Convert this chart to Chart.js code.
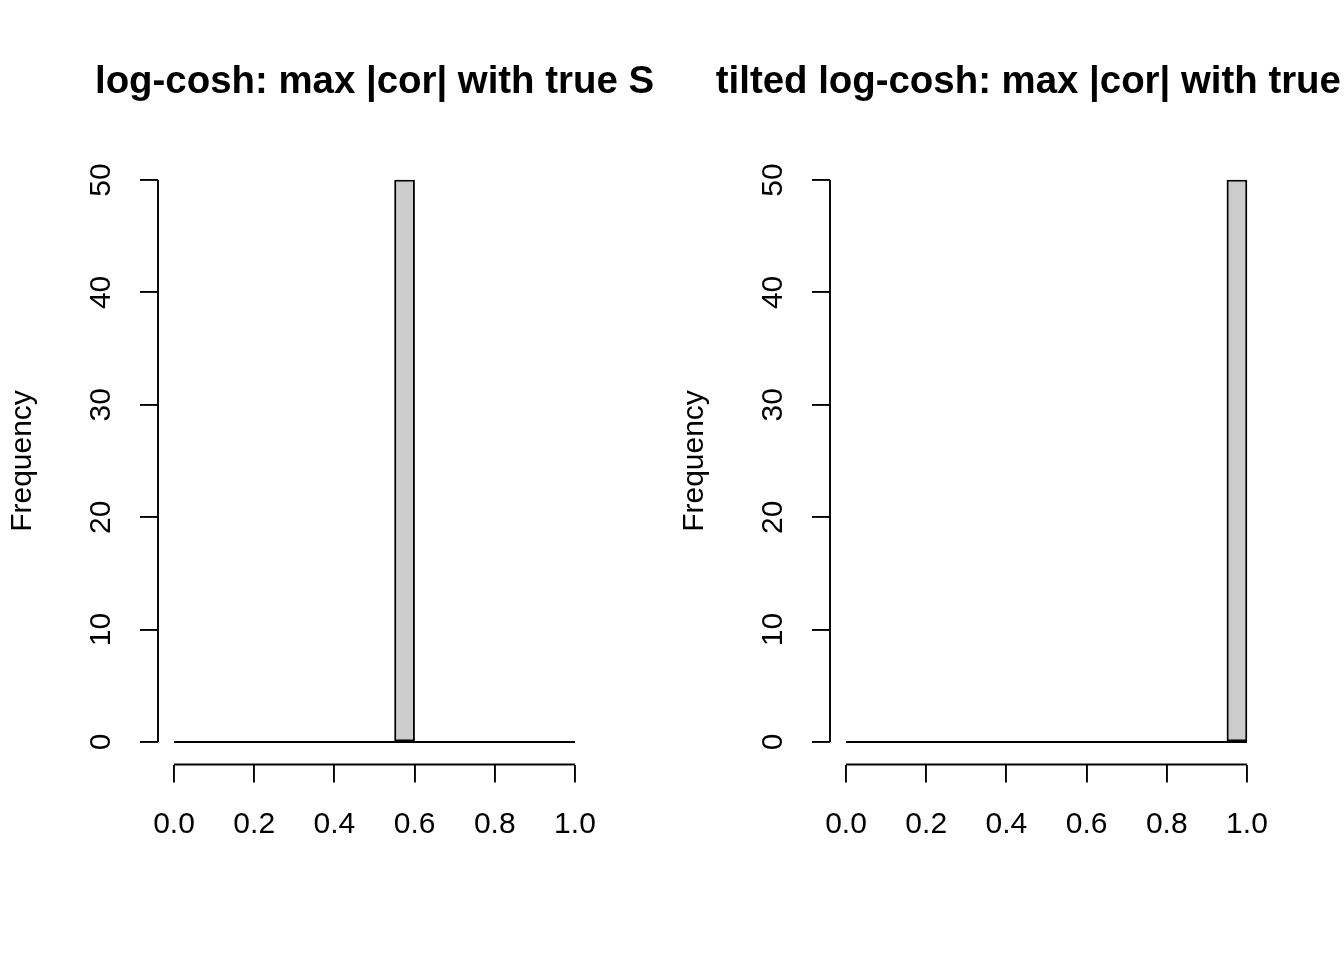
<!DOCTYPE html>
<html>
<head>
<meta charset="utf-8">
<script src="https://cdn.jsdelivr.net/npm/chart.js@4.4.1/dist/chart.umd.min.js"></script>
<style>
  body { margin: 0; background: #fff; overflow: hidden; width: 1344px; height: 960px; position: relative; }
  canvas { position: absolute; top: 0; }
  #left { left: 0; }
  #right { left: 672px; }
</style>
</head>
<body>
<canvas id="left" width="749" height="960"></canvas>
<canvas id="right" width="749" height="960"></canvas>
<script>
// histogram bins (width 0.05 on [0, 1])
var binCenters = [0.025, 0.075, 0.125, 0.175, 0.225, 0.275, 0.325, 0.375, 0.425, 0.475,
                  0.525, 0.575, 0.625, 0.675, 0.725, 0.775, 0.825, 0.875, 0.925, 0.975];
var histRange = [0.0, 1.0];
var logCoshCounts = [0, 0, 0, 0, 0, 0, 0, 0, 0, 0, 0, 50, 0, 0, 0, 0, 0, 0, 0, 0];
var tiltedCounts  = [0, 0, 0, 0, 0, 0, 0, 0, 0, 0, 0, 0, 0, 0, 0, 0, 0, 0, 0, 50];
var xTicks = [0, 0.2, 0.4, 0.6, 0.8, 1.0];
var xTickLabels = ['0.0', '0.2', '0.4', '0.6', '0.8', '1.0'];
var yTicks = [0, 10, 20, 30, 40, 50];
var titles = ['log-cosh: max |cor| with true S', 'tilted log-cosh: max |cor| with true S'];

var FONT = '"Liberation Sans", Arial, Helvetica, sans-serif';
var LW = 1.9;

// R style axes: line only from first to last tick, rotated y labels, unclipped title
var rAxes = {
  id: 'rAxes',
  afterDraw: function(chart, args, opts) {
    var ctx = chart.ctx, xs = chart.scales.x, ys = chart.scales.y, area = chart.chartArea;
    ctx.save();
    ctx.strokeStyle = '#000';
    ctx.lineWidth = LW;
    ctx.beginPath();
    ctx.moveTo(xs.getPixelForValue(xTicks[0]), area.bottom);
    ctx.lineTo(xs.getPixelForValue(xTicks[xTicks.length - 1]), area.bottom);
    ctx.moveTo(area.left, ys.getPixelForValue(yTicks[0]));
    ctx.lineTo(area.left, ys.getPixelForValue(yTicks[yTicks.length - 1]));
    ctx.stroke();

    ctx.fillStyle = '#000';
    ctx.font = '30px ' + FONT;
    ctx.textAlign = 'center';
    ctx.textBaseline = 'alphabetic';
    yTicks.forEach(function(v) {
      ctx.save();
      ctx.translate(area.left - 48, ys.getPixelForValue(v));
      ctx.rotate(-Math.PI / 2);
      ctx.fillText(String(v), 0, 0);
      ctx.restore();
    });

    ctx.font = 'bold 38.4px ' + FONT;
    ctx.fillText(opts.title, (area.left + area.right) / 2, 92.5);
    ctx.restore();
  }
};

function makeHist(id, title, counts) {
  var bars = binCenters.map(function(c, i) { return { x: c, y: counts[i] }; });
  return new Chart(document.getElementById(id), {
    type: 'bar',
    data: {
      datasets: [{
        type: 'line',
        data: [{ x: histRange[0], y: 0 }, { x: histRange[1], y: 0 }],
        borderColor: '#000',
        borderWidth: LW,
        pointRadius: 0,
        fill: false
      }, {
        type: 'bar',
        data: bars,
        backgroundColor: '#CCCCCC',
        borderColor: '#000',
        borderWidth: LW,
        borderSkipped: false,
        barPercentage: 1,
        categoryPercentage: 1
      }]
    },
    options: {
      responsive: false,
      animation: false,
      devicePixelRatio: 1,
      layout: { padding: { left: 0, right: 158, top: 157.5, bottom: 0 } },
      plugins: {
        legend: { display: false },
        tooltip: { enabled: false },
        title: { display: false },
        rAxes: { title: title }
      },
      scales: {
        x: {
          type: 'linear',
          min: -0.04,
          max: 1.04,
          offset: false,
          afterBuildTicks: function(s) { s.ticks = xTicks.map(function(v) { return { value: v }; }); },
          afterFit: function(s) { s.height = 195.5; },
          grid: { offset: false, drawOnChartArea: false, drawTicks: true, tickLength: 18, color: '#000', lineWidth: LW },
          border: { display: false },
          ticks: {
            color: '#000',
            padding: 24,
            maxRotation: 0,
            font: { family: FONT, size: 30 },
            callback: function(v, i) { return xTickLabels[i]; }
          }
        },
        y: {
          min: -2,
          max: 52,
          afterBuildTicks: function(s) { s.ticks = yTicks.map(function(v) { return { value: v }; }); },
          afterFit: function(s) { s.width = 158; },
          grid: { drawOnChartArea: false, drawTicks: true, tickLength: 18, color: '#000', lineWidth: LW },
          border: { display: false },
          ticks: { display: false },
          title: {
            display: true,
            text: 'Frequency',
            color: '#000',
            font: { family: FONT, size: 30 },
            padding: { top: 5, bottom: 0 }
          }
        }
      }
    },
    plugins: [rAxes]
  });
}

makeHist('left', titles[0], logCoshCounts);
makeHist('right', titles[1], tiltedCounts);
</script>
</body>
</html>
